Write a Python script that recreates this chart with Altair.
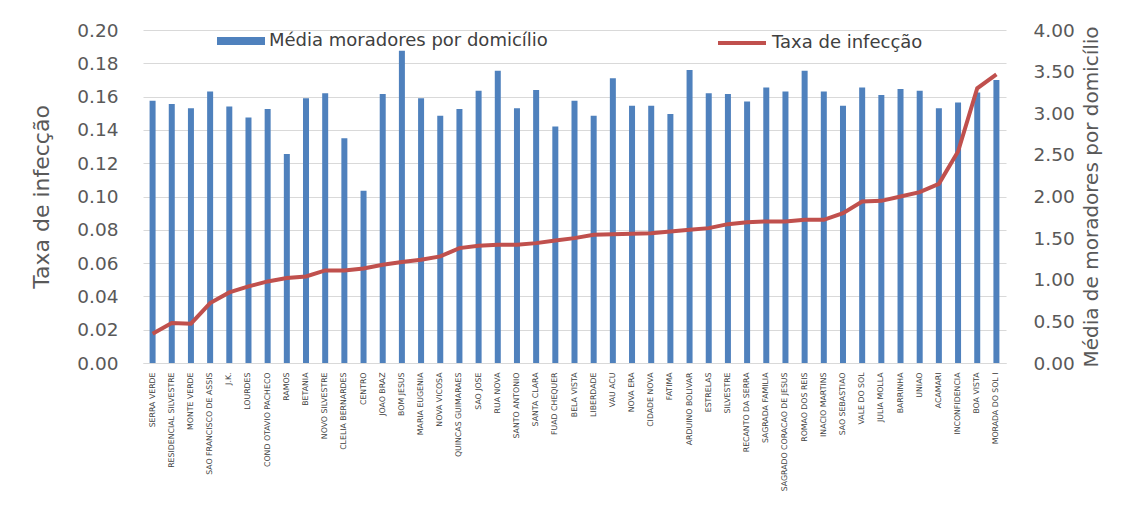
import altair as alt
import pandas as pd

bairros = [
    "SERRA VERDE", "RESIDENCIAL SILVESTRE", "MONTE VERDE", "SAO FRANCISCO DE ASSIS",
    "J.K.", "LOURDES", "COND OTAVIO PACHECO", "RAMOS", "BETANIA", "NOVO SILVESTRE",
    "CLELIA BERNARDES", "CENTRO", "JOAO BRAZ", "BOM JESUS", "MARIA EUGENIA",
    "NOVA VICOSA", "QUINCAS GUIMARAES", "SAO JOSE", "RUA NOVA", "SANTO ANTONIO",
    "SANTA CLARA", "FUAD CHEQUER", "BELA VISTA", "LIBERDADE", "VAU ACU", "NOVA ERA",
    "CIDADE NOVA", "FATIMA", "ARDUINO BOLIVAR", "ESTRELAS", "SILVESTRE",
    "RECANTO DA SERRA", "SAGRADA FAMILIA", "SAGRADO CORACAO DE JESUS",
    "ROMAO DOS REIS", "INACIO MARTINS", "SAO SEBASTIAO", "VALE DO SOL",
    "JULIA MOLLA", "BARRINHA", "UNIAO", "ACAMARI", "INCONFIDENCIA", "BOA VISTA",
    "MORADA DO SOL I",
]

moradores = [
    3.15, 3.11, 3.06, 3.26, 3.08, 2.95, 3.05, 2.51, 3.18, 3.24,
    2.70, 2.07, 3.23, 3.75, 3.18, 2.97, 3.05, 3.27, 3.51, 3.06,
    3.28, 2.84, 3.15, 2.97, 3.42, 3.09, 3.09, 2.99, 3.52, 3.24,
    3.23, 3.14, 3.31, 3.26, 3.51, 3.26, 3.09, 3.31, 3.22, 3.29,
    3.27, 3.06, 3.13, 3.25, 3.40,
]

taxa = [
    0.0176, 0.0240, 0.0236, 0.0360, 0.0424, 0.0460, 0.0490, 0.0510, 0.0520, 0.0556,
    0.0556, 0.0568, 0.0590, 0.0606, 0.0620, 0.0640, 0.0690, 0.0704, 0.0710, 0.0710,
    0.0720, 0.0736, 0.0750, 0.0770, 0.0774, 0.0776, 0.0780, 0.0790, 0.0800, 0.0810,
    0.0834, 0.0846, 0.0850, 0.0850, 0.0860, 0.0860, 0.0900, 0.0970, 0.0974, 0.1000,
    0.1026, 0.1076, 0.1270, 0.1650, 0.1734,
]

left_ticks = [0.00, 0.02, 0.04, 0.06, 0.08, 0.10, 0.12, 0.14, 0.16, 0.18, 0.20]
right_ticks = [0.0, 0.5, 1.0, 1.5, 2.0, 2.5, 3.0, 3.5, 4.0]

SERIE_BAR = "Média moradores por domicílio"
SERIE_LINE = "Taxa de infecção"

df = pd.DataFrame({"bairro": bairros, "moradores": moradores, "taxa": taxa})
df["serie_bar"] = SERIE_BAR
df["serie_line"] = SERIE_LINE

FONT = "DejaVu Sans"
GRAY = "#595959"

x_enc = alt.X(
    "bairro:N",
    sort=None,
    scale=alt.Scale(paddingInner=0, paddingOuter=0),
    axis=alt.Axis(
        title=None,
        labelAngle=-90,
        labelFontSize=7.8,
        labelColor="#404040",
        labelFont=FONT,
        labelPadding=9,
        ticks=False,
        domain=True,
        domainColor="#D9D9D9",
        labelLimit=300,
    ),
)

bars = alt.Chart(df).mark_bar(size=6).encode(
    x=x_enc,
    y=alt.Y(
        "moradores:Q",
        scale=alt.Scale(domain=[0, 4], nice=False),
        axis=alt.Axis(
            orient="right",
            values=right_ticks,
            format=".2f",
            grid=False,
            ticks=False,
            domain=False,
            labelFontSize=18.5,
            labelColor=GRAY,
            labelFont=FONT,
            labelPadding=27,
            title="Média de moradores por domicílio",
            titleAngle=270,
            titleFontSize=20,
            titleFontWeight="normal",
            titleColor=GRAY,
            titleFont=FONT,
            titlePadding=27,
        ),
    ),
    fill=alt.Fill(
        "serie_bar:N",
        scale=alt.Scale(domain=[SERIE_BAR], range=["#4F81BD"]),
        legend=alt.Legend(
            title=None,
            orient="none",
            legendX=74,
            legendY=-13,
            symbolType="M-1,-0.17L1,-0.17L1,0.17L-1,0.17Z",
            symbolSize=2304,
            symbolStrokeWidth=0,
            labelFontSize=18,
            labelFont=FONT,
            labelColor="#404040",
            labelOffset=4,
            labelLimit=600,
        ),
    ),
)

line = alt.Chart(df).mark_line(strokeWidth=4).encode(
    x=x_enc,
    y=alt.Y(
        "taxa:Q",
        scale=alt.Scale(domain=[0, 0.2], nice=False),
        axis=alt.Axis(
            orient="left",
            values=left_ticks,
            format=".2f",
            grid=True,
            gridColor="#D9D9D9",
            ticks=False,
            domain=False,
            labelFontSize=18.5,
            labelColor=GRAY,
            labelFont=FONT,
            labelPadding=25,
            title="Taxa de infecção",
            titleFontSize=22,
            titleFontWeight="normal",
            titleColor=GRAY,
            titleFont=FONT,
            titlePadding=23,
        ),
    ),
    stroke=alt.Stroke(
        "serie_line:N",
        scale=alt.Scale(domain=[SERIE_LINE], range=["#C0504D"]),
        legend=alt.Legend(
            title=None,
            orient="none",
            legendX=573,
            legendY=-13,
            symbolType="stroke",
            symbolSize=2304,
            symbolStrokeWidth=4,
            labelFontSize=18,
            labelFont=FONT,
            labelColor="#404040",
            labelOffset=4,
            labelLimit=600,
        ),
    ),
)

chart = (
    alt.layer(bars, line)
    .resolve_scale(y="independent", fill="independent", stroke="independent")
    .properties(
        width=863,
        height=333,
        padding={"left": 22, "top": 9, "right": 5, "bottom": 5},
        background="white",
    )
    .configure_view(stroke=None)
)

chart.save("out.html", embed_options={"renderer": "svg", "actions": False})
